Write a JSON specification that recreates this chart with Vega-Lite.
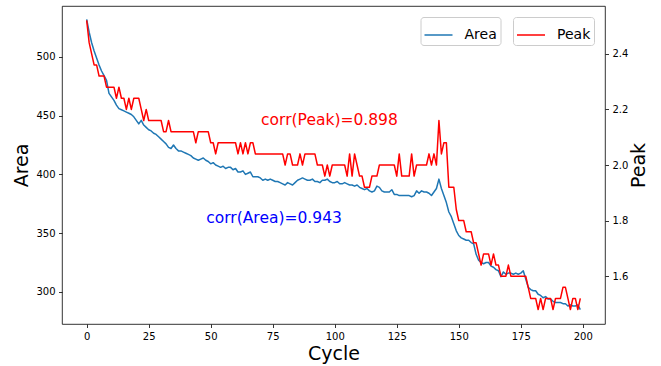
{
  "$schema": "https://vega.github.io/schema/vega-lite/v6.json",
  "autosize": "none",
  "width": 543,
  "height": 318,
  "padding": {"left": 62, "top": 6, "right": 56, "bottom": 42},
  "background": "white",
  "config": {
    "view": {"stroke": "#000", "strokeWidth": 0.8},
    "font": "DejaVu Sans",
    "axis": {"domain": false, "grid": false, "tickColor": "#000", "tickSize": 3.5, "tickWidth": 0.8, "labelFont": "DejaVu Sans", "labelFontSize": 10, "labelColor": "#000", "labelPadding": 3.5, "titleFont": "DejaVu Sans", "titleFontSize": 19, "titleFontWeight": "normal", "titleColor": "#000"},
    "legend": {"title": null, "orient": "none", "direction": "horizontal", "symbolType": "stroke", "symbolSize": 784, "symbolStrokeWidth": 1.5, "labelFont": "DejaVu Sans", "labelFontSize": 14, "labelColor": "#000", "labelOffset": 11, "padding": 3, "cornerRadius": 3, "strokeColor": "#cccccc", "fillColor": "rgba(255,255,255,0.8)"}
  },
  "datasets": {
    "main": [
      {"Cycle":0,"Area":532,"Peak":2.52},{"Cycle":1,"Area":521,"Peak":2.44},{"Cycle":2,"Area":512,"Peak":2.40},{"Cycle":3,"Area":505,"Peak":2.36},{"Cycle":4,"Area":499,"Peak":2.36},
      {"Cycle":5,"Area":493,"Peak":2.32},{"Cycle":6,"Area":488,"Peak":2.32},{"Cycle":7,"Area":484,"Peak":2.32},{"Cycle":8,"Area":480,"Peak":2.28},{"Cycle":9,"Area":469,"Peak":2.28},
      {"Cycle":10,"Area":466,"Peak":2.28},{"Cycle":11,"Area":463,"Peak":2.28},{"Cycle":12,"Area":459,"Peak":2.24},{"Cycle":13,"Area":456,"Peak":2.28},{"Cycle":14,"Area":455,"Peak":2.24},
      {"Cycle":15,"Area":454,"Peak":2.24},{"Cycle":16,"Area":453,"Peak":2.20},{"Cycle":17,"Area":452,"Peak":2.24},{"Cycle":18,"Area":451,"Peak":2.20},{"Cycle":19,"Area":449,"Peak":2.24},
      {"Cycle":20,"Area":446,"Peak":2.24},{"Cycle":21,"Area":443,"Peak":2.24},{"Cycle":22,"Area":446,"Peak":2.20},{"Cycle":23,"Area":442,"Peak":2.16},{"Cycle":24,"Area":440,"Peak":2.20},
      {"Cycle":25,"Area":438,"Peak":2.16},{"Cycle":26,"Area":437,"Peak":2.16},{"Cycle":27,"Area":435,"Peak":2.16},{"Cycle":28,"Area":434,"Peak":2.16},{"Cycle":29,"Area":432,"Peak":2.16},
      {"Cycle":30,"Area":430,"Peak":2.16},{"Cycle":31,"Area":428,"Peak":2.12},{"Cycle":32,"Area":426,"Peak":2.12},{"Cycle":33,"Area":423,"Peak":2.16},{"Cycle":34,"Area":422,"Peak":2.12},
      {"Cycle":35,"Area":425,"Peak":2.12},{"Cycle":36,"Area":422,"Peak":2.12},{"Cycle":37,"Area":420,"Peak":2.12},{"Cycle":38,"Area":420,"Peak":2.12},{"Cycle":39,"Area":419,"Peak":2.12},
      {"Cycle":40,"Area":418,"Peak":2.12},{"Cycle":41,"Area":417,"Peak":2.12},{"Cycle":42,"Area":416,"Peak":2.12},{"Cycle":43,"Area":414,"Peak":2.12},{"Cycle":44,"Area":413,"Peak":2.08},
      {"Cycle":45,"Area":412,"Peak":2.12},{"Cycle":46,"Area":413,"Peak":2.12},{"Cycle":47,"Area":414,"Peak":2.12},{"Cycle":48,"Area":412,"Peak":2.12},{"Cycle":49,"Area":411,"Peak":2.12},
      {"Cycle":50,"Area":409,"Peak":2.08},{"Cycle":51,"Area":410,"Peak":2.08},{"Cycle":52,"Area":408,"Peak":2.04},{"Cycle":53,"Area":407,"Peak":2.08},{"Cycle":54,"Area":406,"Peak":2.08},
      {"Cycle":55,"Area":407,"Peak":2.08},{"Cycle":56,"Area":405,"Peak":2.08},{"Cycle":57,"Area":406,"Peak":2.08},{"Cycle":58,"Area":406,"Peak":2.08},{"Cycle":59,"Area":404,"Peak":2.08},
      {"Cycle":60,"Area":405,"Peak":2.08},{"Cycle":61,"Area":402,"Peak":2.04},{"Cycle":62,"Area":402,"Peak":2.08},{"Cycle":63,"Area":403,"Peak":2.04},{"Cycle":64,"Area":400,"Peak":2.08},
      {"Cycle":65,"Area":401,"Peak":2.04},{"Cycle":66,"Area":402,"Peak":2.08},{"Cycle":67,"Area":398,"Peak":2.08},{"Cycle":68,"Area":398,"Peak":2.04},{"Cycle":69,"Area":398,"Peak":2.04},
      {"Cycle":70,"Area":397,"Peak":2.04},{"Cycle":71,"Area":395,"Peak":2.04},{"Cycle":72,"Area":396,"Peak":2.04},{"Cycle":73,"Area":395,"Peak":2.04},{"Cycle":74,"Area":396,"Peak":2.04},
      {"Cycle":75,"Area":395,"Peak":2.04},{"Cycle":76,"Area":394,"Peak":2.04},{"Cycle":77,"Area":394,"Peak":2.04},{"Cycle":78,"Area":393,"Peak":2.04},{"Cycle":79,"Area":392,"Peak":2.04},
      {"Cycle":80,"Area":391,"Peak":2.00},{"Cycle":81,"Area":393,"Peak":2.04},{"Cycle":82,"Area":392,"Peak":2.04},{"Cycle":83,"Area":391,"Peak":2.00},{"Cycle":84,"Area":393,"Peak":2.00},
      {"Cycle":85,"Area":395,"Peak":2.00},{"Cycle":86,"Area":396,"Peak":2.04},{"Cycle":87,"Area":397,"Peak":2.00},{"Cycle":88,"Area":396,"Peak":2.04},{"Cycle":89,"Area":395,"Peak":2.04},
      {"Cycle":90,"Area":395,"Peak":2.04},{"Cycle":91,"Area":396,"Peak":2.04},{"Cycle":92,"Area":394,"Peak":2.04},{"Cycle":93,"Area":394,"Peak":2.00},{"Cycle":94,"Area":393,"Peak":2.00},
      {"Cycle":95,"Area":395,"Peak":2.00},{"Cycle":96,"Area":395,"Peak":1.96},{"Cycle":97,"Area":396,"Peak":2.00},{"Cycle":98,"Area":394,"Peak":1.96},{"Cycle":99,"Area":393,"Peak":2.00},
      {"Cycle":100,"Area":393,"Peak":2.00},{"Cycle":101,"Area":394,"Peak":2.00},{"Cycle":102,"Area":392,"Peak":2.00},{"Cycle":103,"Area":392,"Peak":2.00},{"Cycle":104,"Area":393,"Peak":2.00},
      {"Cycle":105,"Area":392,"Peak":1.96},{"Cycle":106,"Area":391,"Peak":2.04},{"Cycle":107,"Area":391,"Peak":1.96},{"Cycle":108,"Area":390,"Peak":2.04},{"Cycle":109,"Area":391,"Peak":2.00},
      {"Cycle":110,"Area":389,"Peak":1.96},{"Cycle":111,"Area":388,"Peak":1.96},{"Cycle":112,"Area":387,"Peak":1.92},{"Cycle":113,"Area":388,"Peak":1.92},{"Cycle":114,"Area":386,"Peak":1.92},
      {"Cycle":115,"Area":385,"Peak":1.96},{"Cycle":116,"Area":386,"Peak":1.96},{"Cycle":117,"Area":390,"Peak":1.96},{"Cycle":118,"Area":389,"Peak":2.00},{"Cycle":119,"Area":386,"Peak":2.00},
      {"Cycle":120,"Area":385,"Peak":2.00},{"Cycle":121,"Area":385,"Peak":2.00},{"Cycle":122,"Area":385,"Peak":2.00},{"Cycle":123,"Area":387,"Peak":2.00},{"Cycle":124,"Area":383,"Peak":2.00},
      {"Cycle":125,"Area":383,"Peak":1.96},{"Cycle":126,"Area":382,"Peak":2.04},{"Cycle":127,"Area":382,"Peak":1.96},{"Cycle":128,"Area":382,"Peak":1.96},{"Cycle":129,"Area":382,"Peak":1.96},
      {"Cycle":130,"Area":382,"Peak":1.96},{"Cycle":131,"Area":381,"Peak":2.04},{"Cycle":132,"Area":382,"Peak":1.96},{"Cycle":133,"Area":386,"Peak":2.00},{"Cycle":134,"Area":384,"Peak":2.00},
      {"Cycle":135,"Area":386,"Peak":2.00},{"Cycle":136,"Area":385,"Peak":2.00},{"Cycle":137,"Area":385,"Peak":2.00},{"Cycle":138,"Area":384,"Peak":2.04},{"Cycle":139,"Area":382,"Peak":2.00},
      {"Cycle":140,"Area":385,"Peak":2.04},{"Cycle":141,"Area":388,"Peak":2.00},{"Cycle":142,"Area":396,"Peak":2.16},{"Cycle":143,"Area":388,"Peak":2.04},{"Cycle":144,"Area":382,"Peak":2.08},
      {"Cycle":145,"Area":376,"Peak":2.08},{"Cycle":146,"Area":368,"Peak":1.92},{"Cycle":147,"Area":364,"Peak":1.92},{"Cycle":148,"Area":358,"Peak":1.92},{"Cycle":149,"Area":352,"Peak":1.84},
      {"Cycle":150,"Area":348,"Peak":1.80},{"Cycle":151,"Area":346,"Peak":1.80},{"Cycle":152,"Area":345,"Peak":1.80},{"Cycle":153,"Area":344,"Peak":1.76},{"Cycle":154,"Area":344,"Peak":1.76},
      {"Cycle":155,"Area":342,"Peak":1.76},{"Cycle":156,"Area":341,"Peak":1.72},{"Cycle":157,"Area":332,"Peak":1.72},{"Cycle":158,"Area":327,"Peak":1.68},{"Cycle":159,"Area":325,"Peak":1.64},
      {"Cycle":160,"Area":324,"Peak":1.68},{"Cycle":161,"Area":325,"Peak":1.68},{"Cycle":162,"Area":325,"Peak":1.68},{"Cycle":163,"Area":322,"Peak":1.64},{"Cycle":164,"Area":321,"Peak":1.68},
      {"Cycle":165,"Area":319,"Peak":1.64},{"Cycle":166,"Area":318,"Peak":1.64},{"Cycle":167,"Area":313,"Peak":1.60},{"Cycle":168,"Area":317,"Peak":1.60},{"Cycle":169,"Area":315,"Peak":1.60},
      {"Cycle":170,"Area":316,"Peak":1.64},{"Cycle":171,"Area":316,"Peak":1.60},{"Cycle":172,"Area":315,"Peak":1.60},{"Cycle":173,"Area":316,"Peak":1.60},{"Cycle":174,"Area":315,"Peak":1.60},
      {"Cycle":175,"Area":316,"Peak":1.60},{"Cycle":176,"Area":318,"Peak":1.60},{"Cycle":177,"Area":311,"Peak":1.60},{"Cycle":178,"Area":304,"Peak":1.56},{"Cycle":179,"Area":302,"Peak":1.52},
      {"Cycle":180,"Area":301,"Peak":1.52},{"Cycle":181,"Area":301,"Peak":1.52},{"Cycle":182,"Area":298,"Peak":1.48},{"Cycle":183,"Area":297,"Peak":1.52},{"Cycle":184,"Area":295,"Peak":1.48},
      {"Cycle":185,"Area":296,"Peak":1.52},{"Cycle":186,"Area":294,"Peak":1.52},{"Cycle":187,"Area":294,"Peak":1.52},{"Cycle":188,"Area":292,"Peak":1.48},{"Cycle":189,"Area":291,"Peak":1.52},
      {"Cycle":190,"Area":291,"Peak":1.52},{"Cycle":191,"Area":291,"Peak":1.52},{"Cycle":192,"Area":290,"Peak":1.56},{"Cycle":193,"Area":290,"Peak":1.56},{"Cycle":194,"Area":288,"Peak":1.52},
      {"Cycle":195,"Area":289,"Peak":1.48},{"Cycle":196,"Area":288,"Peak":1.52},{"Cycle":197,"Area":288,"Peak":1.52},{"Cycle":198,"Area":289,"Peak":1.48},{"Cycle":199,"Area":285,"Peak":1.52}
    ]
  },
  "encoding": {
    "x": {"field": "Cycle", "type": "quantitative", "scale": {"domain": [-9.95, 208.95], "nice": false, "zero": false}, "axis": {"values": [0, 25, 50, 75, 100, 125, 150, 175, 200], "title": "Cycle", "titlePadding": 3, "labelFlush": false}}
  },
  "layer": [
    {
      "encoding": {
        "y": {"field": "Area", "type": "quantitative", "scale": {"domain": [272.7, 543.3], "nice": false, "zero": false}, "axis": {"orient": "left", "values": [300, 350, 400, 450, 500], "title": "Area", "titlePadding": 4}}
      },
      "layer": [
        {
          "data": {"name": "main"},
          "mark": {"type": "line", "strokeWidth": 1.5, "strokeJoin": "round"},
          "encoding": {
            "color": {"datum": "Area", "type": "nominal", "scale": {"domain": ["Area"], "range": ["#1f77b4"]}, "legend": {"legendX": 358.5, "legendY": 11}}
          }
        },
        {
          "data": {"values": [{"Cycle": 70.3, "Area": 446.5, "label": "corr(Peak)=0.898"}]},
          "mark": {"type": "text", "align": "left", "baseline": "middle", "fontSize": 15.5, "color": "#ff0000", "font": "DejaVu Sans"},
          "encoding": {"text": {"field": "label"}}
        },
        {
          "data": {"values": [{"Cycle": 48.2, "Area": 362.6, "label": "corr(Area)=0.943"}]},
          "mark": {"type": "text", "align": "left", "baseline": "middle", "fontSize": 15.5, "color": "#0000ff", "font": "DejaVu Sans"},
          "encoding": {"text": {"field": "label"}}
        }
      ]
    },
    {
      "data": {"name": "main"},
      "mark": {"type": "line", "strokeWidth": 1.5, "strokeJoin": "round"},
      "encoding": {
        "y": {"field": "Peak", "type": "quantitative", "scale": {"domain": [1.428, 2.572], "nice": false, "zero": false}, "axis": {"orient": "right", "values": [1.6, 1.8, 2.0, 2.2, 2.4], "format": ".1f", "title": "Peak", "titleAngle": 270, "titleBaseline": "top", "titlePadding": 2}},
        "color": {"datum": "Peak", "type": "nominal", "scale": {"domain": ["Peak"], "range": ["#ff0000"]}, "legend": {"legendX": 451, "legendY": 11}}
      }
    }
  ],
  "resolve": {"scale": {"y": "independent", "color": "independent"}, "legend": {"color": "independent"}}
}
